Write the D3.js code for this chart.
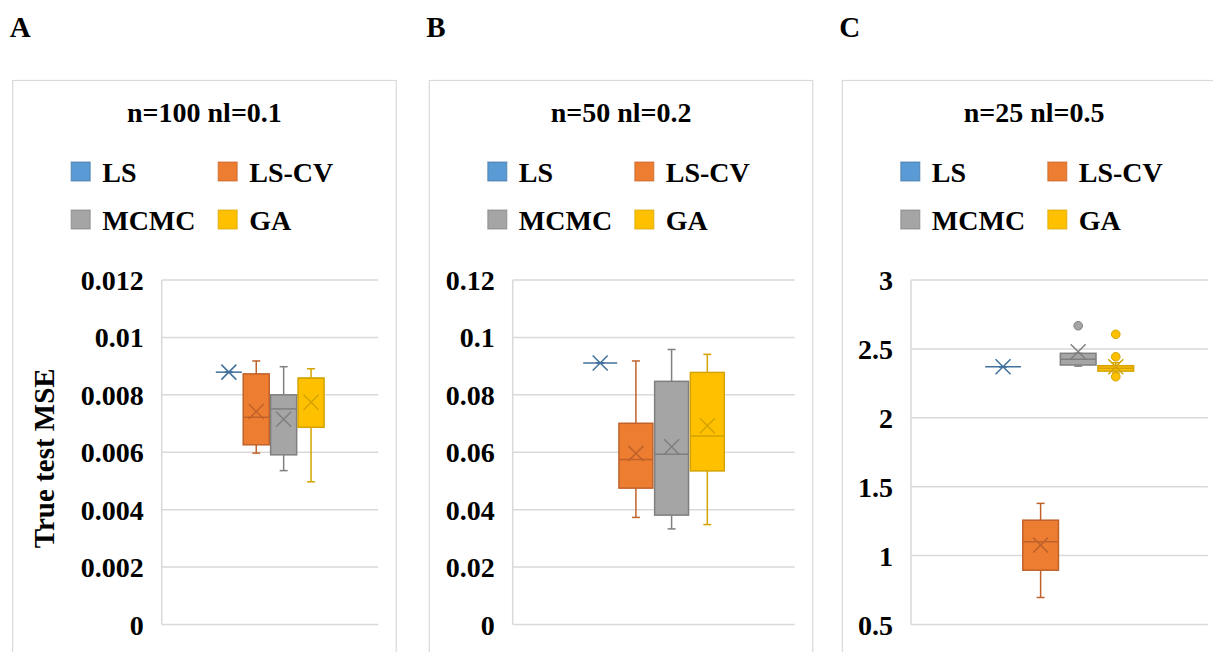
<!doctype html>
<html>
<head>
<meta charset="utf-8"/>
<title>True test MSE box plots</title>
<script src="https://d3js.org/d3.v7.min.js"></script>
<style>
body{margin:0;background:#fff;}
text{font-family:"Liberation Serif","Times New Roman",serif;font-weight:bold;fill:#000;}
</style>
</head>
<body>
<script>
// ---- data ----
var panelLabels = ["A", "B", "C"];
var titles = ["n=100 nl=0.1", "n=50 nl=0.2", "n=25 nl=0.5"];
var series = ["LS", "LS-CV", "MCMC", "GA"];
var fills = ["#5B9BD5", "#ED7D31", "#A5A5A5", "#FFC000"];
var lines = ["#41719C", "#C0622B", "#7F7F7F", "#D4A300"];

var ticksA = [0, 0.002, 0.004, 0.006, 0.008, 0.01, 0.012];
var ticksB = [0, 0.02, 0.04, 0.06, 0.08, 0.1, 0.12];
var ticksC = [0.5, 1, 1.5, 2, 2.5, 3];
var tickLabelsA = ["0", "0.002", "0.004", "0.006", "0.008", "0.01", "0.012"];
var tickLabelsB = ["0", "0.02", "0.04", "0.06", "0.08", "0.1", "0.12"];
var tickLabelsC = ["0.5", "1", "1.5", "2", "2.5", "3"];

// each row: [low whisker, q1, median, q3, high whisker, mean]
var boxA = [
  [0.00879, 0.00879, 0.00879, 0.00879, 0.00879, 0.00879],
  [0.00597, 0.00626, 0.00722, 0.00873, 0.00918, 0.00742],
  [0.00536, 0.00591, 0.00751, 0.00800, 0.00898, 0.00715],
  [0.00497, 0.00687, 0.00858, 0.00858, 0.00891, 0.00774]
];
var boxB = [
  [0.0911, 0.0911, 0.0911, 0.0911, 0.0911, 0.0911],
  [0.0373, 0.0475, 0.0575, 0.0701, 0.0918, 0.0596],
  [0.0333, 0.0381, 0.0593, 0.0847, 0.0958, 0.0619],
  [0.0348, 0.0535, 0.0657, 0.0878, 0.0941, 0.0692]
];
var boxC = [
  [2.370, 2.370, 2.370, 2.370, 2.370, 2.370],
  [0.696, 0.894, 1.100, 1.257, 1.379, 1.076],
  [2.375, 2.383, 2.424, 2.468, 2.468, 2.479],
  [2.325, 2.339, 2.359, 2.378, 2.400, 2.370]
];
var outA = [[], [], [], []];
var outB = [[], [], [], []];
var outC = [[], [], [2.668], [2.606, 2.443, 2.298]];

var panels = [
  {ticks: ticksA, labels: tickLabelsA, box: boxA, out: outA, left: 12.7, plotLeft: 161.7},
  {ticks: ticksB, labels: tickLabelsB, box: boxB, out: outB, left: 429.3, plotLeft: 512.7},
  {ticks: ticksC, labels: tickLabelsC, box: boxC, out: outC, left: 842.3, plotLeft: 911}
];

// ---- drawing ----
var svg = d3.select("body").append("svg")
  .attr("width", 1213)
  .attr("height", 652);

var panelW = 383.5, plotTop = 280, plotBottom = 624.5;
var fs = 28;

panels.forEach(function(p, i) {
  var g = svg.append("g");

  // panel frame
  g.append("rect")
    .attr("x", p.left).attr("y", 80.5)
    .attr("width", panelW).attr("height", 640)
    .attr("fill", "none").attr("stroke", "#D9D9D9").attr("stroke-width", 1.2);

  g.append("text")
    .attr("x", p.left - 3).attr("y", 37)
    .style("font-size", "29px")
    .text(panelLabels[i]);

  g.append("text")
    .attr("x", p.left + panelW / 2).attr("y", 122)
    .attr("text-anchor", "middle")
    .style("font-size", fs + "px")
    .text(titles[i]);

  // legend, 2 x 2
  var leg = g.selectAll(".leg").data(series).enter().append("g")
    .attr("transform", function(d, k) {
      return "translate(" + (p.left + 58.5 + (k % 2) * 147) + "," + (162 + Math.floor(k / 2) * 48) + ")";
    });
  leg.append("rect")
    .attr("width", 19).attr("height", 19)
    .attr("fill", function(d, k) { return fills[k]; })
    .attr("stroke", function(d, k) { return lines[k]; })
    .attr("stroke-width", 1.2).attr("stroke-opacity", 0.6);
  leg.append("text")
    .attr("x", 31).attr("y", 20)
    .style("font-size", fs + "px")
    .text(function(d) { return d; });

  // plot
  var plotRight = p.left + panelW - 18;
  var y = d3.scaleLinear()
    .domain([p.ticks[0], p.ticks[p.ticks.length - 1]])
    .range([plotBottom, plotTop]);
  var W = plotRight - p.plotLeft;
  var x = d3.scaleBand()
    .domain(series)
    .range([p.plotLeft + W * 0.25, plotRight - W * 0.25])
    .paddingInner(0.05);

  g.selectAll(".grid").data(p.ticks).enter().append("line")
    .attr("x1", p.plotLeft).attr("x2", plotRight)
    .attr("y1", function(d) { return y(d); })
    .attr("y2", function(d) { return y(d); })
    .attr("stroke", "#D9D9D9").attr("stroke-width", 1.5);
  g.append("line")
    .attr("x1", p.plotLeft).attr("x2", p.plotLeft)
    .attr("y1", plotTop).attr("y2", plotBottom)
    .attr("stroke", "#D9D9D9").attr("stroke-width", 1.5);

  var axis = g.append("g")
    .attr("transform", "translate(" + (p.plotLeft - 18) + ",0)")
    .call(d3.axisLeft(y).tickValues(p.ticks).tickSize(0).tickPadding(0)
      .tickFormat(function(d, k) { return p.labels[k]; }));
  axis.select(".domain").remove();
  axis.selectAll("text")
    .attr("dy", "0.34em")
    .style("font-size", fs + "px")
    .style("font-family", "Liberation Serif")
    .style("font-weight", "bold")
    .attr("fill", "#000");

  // boxes
  var bw = x.bandwidth();
  series.forEach(function(s, k) {
    var b = p.box[k];
    var cx = x(s) + bw / 2;
    var col = lines[k];
    // whiskers
    g.append("line")
      .attr("x1", cx).attr("x2", cx)
      .attr("y1", y(b[0])).attr("y2", y(b[1]))
      .attr("stroke", col).attr("stroke-width", 1.5);
    g.append("line")
      .attr("x1", cx).attr("x2", cx)
      .attr("y1", y(b[3])).attr("y2", y(b[4]))
      .attr("stroke", col).attr("stroke-width", 1.5);
    [b[0], b[4]].forEach(function(v) {
      g.append("line")
        .attr("x1", cx - 4).attr("x2", cx + 4)
        .attr("y1", y(v)).attr("y2", y(v))
        .attr("stroke", col).attr("stroke-width", 1.5);
    });
    // box
    g.append("rect")
      .attr("x", x(s)).attr("y", y(b[3]))
      .attr("width", bw).attr("height", Math.max(y(b[1]) - y(b[3]), 0))
      .attr("fill", fills[k]).attr("stroke", col).attr("stroke-width", 1.5);
    g.append("line")
      .attr("x1", x(s)).attr("x2", x(s) + bw)
      .attr("y1", y(b[2])).attr("y2", y(b[2]))
      .attr("stroke", col).attr("stroke-width", 1.5);
    // mean marker
    var my = y(b[5]), r = 7.5;
    g.append("path")
      .attr("d", "M" + (cx - r) + "," + (my - r) + "L" + (cx + r) + "," + (my + r) +
                 "M" + (cx - r) + "," + (my + r) + "L" + (cx + r) + "," + (my - r))
      .attr("stroke", col).attr("stroke-width", 1.5).attr("fill", "none");
    // outliers
    g.selectAll(".o" + k).data(p.out[k]).enter().append("circle")
      .attr("cx", cx).attr("cy", function(d) { return y(d); })
      .attr("r", 4.3)
      .attr("fill", fills[k]).attr("stroke", col).attr("stroke-width", 1);
  });

  if (i === 0) {
    g.append("text")
      .attr("transform", "translate(54," + ((plotTop + plotBottom) / 2 + 6) + ") rotate(-90)")
      .attr("text-anchor", "middle")
      .style("font-size", "29px")
      .text("True test MSE");
  }
});
</script>
</body>
</html>
